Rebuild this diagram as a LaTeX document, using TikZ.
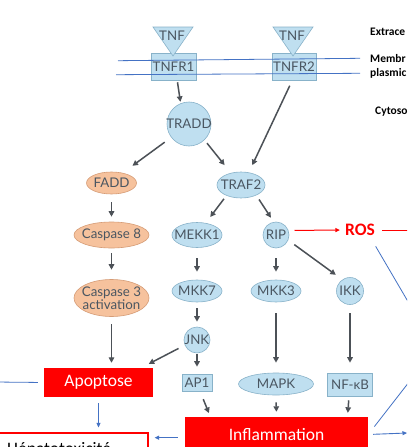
\documentclass[tikz,border=0pt]{standalone}
\usepackage{fontspec}
\setmainfont{Carlito}
\newfontfamily\nodefont{Lato}
\usetikzlibrary{shapes.geometric,arrows.meta,calc}
\definecolor{nodeblue}{HTML}{BFDFF0}
\definecolor{nodeborder}{HTML}{88B2C9}
\definecolor{nodeorange}{HTML}{F6C29D}
\definecolor{orangeborder}{HTML}{D69C76}
\definecolor{nodetext}{HTML}{4A5661}
\definecolor{arrgray}{HTML}{4C5157}
\definecolor{lineblue}{HTML}{4472C4}
\definecolor{boxred}{HTML}{FF0000}
\newcommand{\zw}[1]{\makebox[0pt]{#1}}
\begin{document}
\begin{tikzpicture}[x=1pt,y=-1pt,
  base/.style={line width=0.6pt, inner sep=0pt, text=nodetext,
    font=\nodefont\fontsize{13.3}{13}\selectfont},
  bell/.style={base, ellipse, draw=nodeborder, fill=nodeblue},
  oell/.style={base, ellipse, draw=orangeborder, fill=nodeorange},
  bcirc/.style={base, circle, draw=nodeborder, fill=nodeblue},
  bbox/.style={base, rectangle, draw=nodeborder, fill=nodeblue},
  tnfshape/.style={draw=nodeborder, fill=nodeblue, line width=0.6pt},
  arr/.style={draw=arrgray, line width=1.5pt, -{Triangle[length=5.5pt,width=5.5pt]}},
  redarr/.style={draw=boxred, line width=1pt, -{Triangle[length=4.5pt,width=4pt]}},
  redline/.style={draw=boxred, line width=1pt},
  bluearr/.style={draw=lineblue, line width=0.9pt, -{Triangle[length=4.5pt,width=4pt]}},
  blueline/.style={draw=lineblue, line width=0.8pt},
  redbox/.style={fill=boxred, text=white, inner sep=0pt, font=\fontsize{17.5}{18}\selectfont},
  lab/.style={inner sep=0pt, font=\bfseries\fontsize{11.5}{12}\selectfont, anchor=west}]
\useasboundingbox (0,0) rectangle (407,447);
\fill[white] (0,0) rectangle (407,447);
\clip (0,0) rectangle (407,447);

% receptors
\node[bbox, minimum width=45pt, minimum height=27pt] (tnfr1) at (173.5,66.5) {\zw{TNFR1}};
\node[bbox, minimum width=44pt, minimum height=27pt] (tnfr2) at (294,66.5) {\zw{TNFR2}};
\path[tnfshape] (153,27) -- (193,27) -- (173,56) -- cycle;
\path[tnfshape] (273,27) -- (313,27) -- (293,56) -- cycle;
\node[base] (tnf1) at (172,36) {TNF};
\node[base] (tnf2) at (292,36) {TNF};
\draw[blueline] (118,60.7) -- (360,58.3);
\draw[blueline] (116,74.7) -- (360,73.3);

% labels right
\node[lab] (extra) at (370,32) {Extrace};
\node[lab] (membr) at (370,59) {Membr};
\node[lab] (plasm) at (370,73) {plasmic};
\node[lab] (cyto) at (375,112) {Cytoso};

% pathway nodes
\node[bcirc, minimum size=44pt] (tradd) at (189,124) {\zw{TRADD}};
\node[oell, minimum width=50pt, minimum height=22pt] (fadd) at (111.5,183) {\zw{FADD}};
\node[bell, minimum width=48pt, minimum height=26pt] (traf2) at (241,185) {\zw{TRAF2}};
\node[oell, minimum width=75pt, minimum height=26pt] (casp8) at (111.5,235) {\zw{Caspase 8}};
\node[bell, minimum width=50pt, minimum height=25pt] (mekk1) at (197,235) {\zw{MEKK1}};
\node[bcirc, minimum size=26pt] (rip) at (276,235) {\zw{RIP}};
\node[inner sep=0pt, text=boxred, font=\bfseries\fontsize{17.5}{18}\selectfont] (ros) at (360,230) {ROS};
\node[oell, minimum width=75pt, minimum height=37pt, align=center] (casp3) at (111.5,298) {\zw{Caspase 3}\\\zw{activation}};
\node[bell, minimum width=50pt, minimum height=22pt] (mkk7) at (197,291) {\zw{MKK7}};
\node[bell, minimum width=50pt, minimum height=22pt] (mkk3) at (276,291) {\zw{MKK3}};
\node[bcirc, minimum size=27pt] (ikk) at (350,291) {\zw{IKK}};
\node[bcirc, minimum size=26pt] (jnk) at (197,340) {\zw{JNK}};
\node[bbox, minimum width=30pt, minimum height=17pt] (ap1) at (197,383) {\zw{AP1}};
\node[bell, minimum width=75pt, minimum height=22pt] (mapk) at (276,384) {\zw{MAPK}};
\node[bbox, minimum width=45pt, minimum height=23pt] (nfkb) at (350,385) {\zw{NF-κB}};

% outcome boxes
\node[redbox, minimum width=109pt, minimum height=29pt] (apop) at (98.5,382.5) {Apoptose};
\node[redbox, minimum width=183pt, minimum height=35pt] (infl) at (276.5,434.5) {Inflammation};
\node[draw=boxred, line width=1.2pt, fill=white, minimum width=150pt, minimum height=32pt, inner sep=0pt] (hepa) at (73,449) {};
\node[anchor=base west, inner sep=0pt, font=\fontsize{17.5}{18}\selectfont] (hepatext) at (7,454) {Hépatotoxicité};

% free ends
\coordinate (rt) at (407,433);
\coordinate (ur) at (412,378.2);
\coordinate (rd) at (412,308.4);
\coordinate (rr) at (412,230);
\coordinate (lt) at (-5,382);

% pathway arrows
\draw[arr, shorten <=2pt, shorten >=1.5pt] (tnfr1.-75) -- (tradd.112);
\draw[arr, shorten <=6pt, shorten >=8pt] (tnfr2.-97) -- (traf2.58);
\draw[arr, shorten <=8pt, shorten >=12pt] (tradd.217) -- (fadd.42);
\draw[arr, shorten <=4pt, shorten >=10pt] (tradd.-46) -- (traf2.130);
\draw[arr, shorten <=4pt, shorten >=7.5pt] (traf2.216) -- (mekk1.54);
\draw[arr, shorten <=5pt, shorten >=5pt] (traf2.-34) -- (rip.100);
\draw[arr, shorten <=8pt, shorten >=5pt] (fadd.south) -- (casp8.north);
\draw[arr, shorten <=5pt, shorten >=9.5pt] (casp8.south) -- (casp3.north);
\draw[arr, shorten <=10.5pt, shorten >=8pt] (mekk1.south) -- (mkk7.north);
\draw[arr, shorten <=10pt, shorten >=8pt] (rip.south) -- (mkk3.north);
\draw[arr, shorten <=7.5pt, shorten >=8pt] (rip.-23) -- (ikk.124);
\draw[redarr, shorten <=6pt, shorten >=5pt] (rip.20) -- (ros.west);
\draw[arr, shorten <=6pt, shorten >=5pt] (mkk7.south) -- (jnk.north);
\draw[arr, shorten <=7.5pt, shorten >=5pt] (casp3.south) -- (casp3.south |- apop.north);
\draw[arr, shorten <=7pt, shorten >=8.5pt] (jnk.203) -- (apop.19.6);
\draw[arr, shorten <=1pt, shorten >=7.5pt] (jnk.south) -- (ap1.north);
\draw[arr, shorten <=11pt, shorten >=10pt] (mkk3.south) -- (mapk.north);
\draw[arr, shorten <=8.5pt, shorten >=10.5pt] (ikk.south) -- (nfkb.north);
\draw[arr, shorten <=8pt, shorten >=4pt] (ap1.-70) -- (infl.165.5);
\draw[arr, shorten <=7pt, shorten >=5pt] (mapk.south) -- (infl.north);
\draw[arr, shorten <=3.5pt, shorten >=4pt] (nfkb.-95) -- (infl.14.7);

% outer links
\draw[redline, shorten <=7pt] (ros.east) -- (rr);
\draw[blueline, shorten <=12pt] (ros.-32.4) -- (rd);
\draw[blueline, shorten <=6pt] (apop.west) -- (lt);
\draw[bluearr, shorten <=6pt, shorten >=5pt] (apop.south) -- (apop.south |- hepa.north);
\draw[bluearr, shorten <=7pt, shorten >=6pt] (infl.182.8) -- (infl.182.8 -| hepa.east);
\draw[bluearr, shorten <=5pt] (infl.0.94) -- (rt);
\draw[blueline, shorten <=10pt] (infl.east) -- (ur);
\end{tikzpicture}
\end{document}
